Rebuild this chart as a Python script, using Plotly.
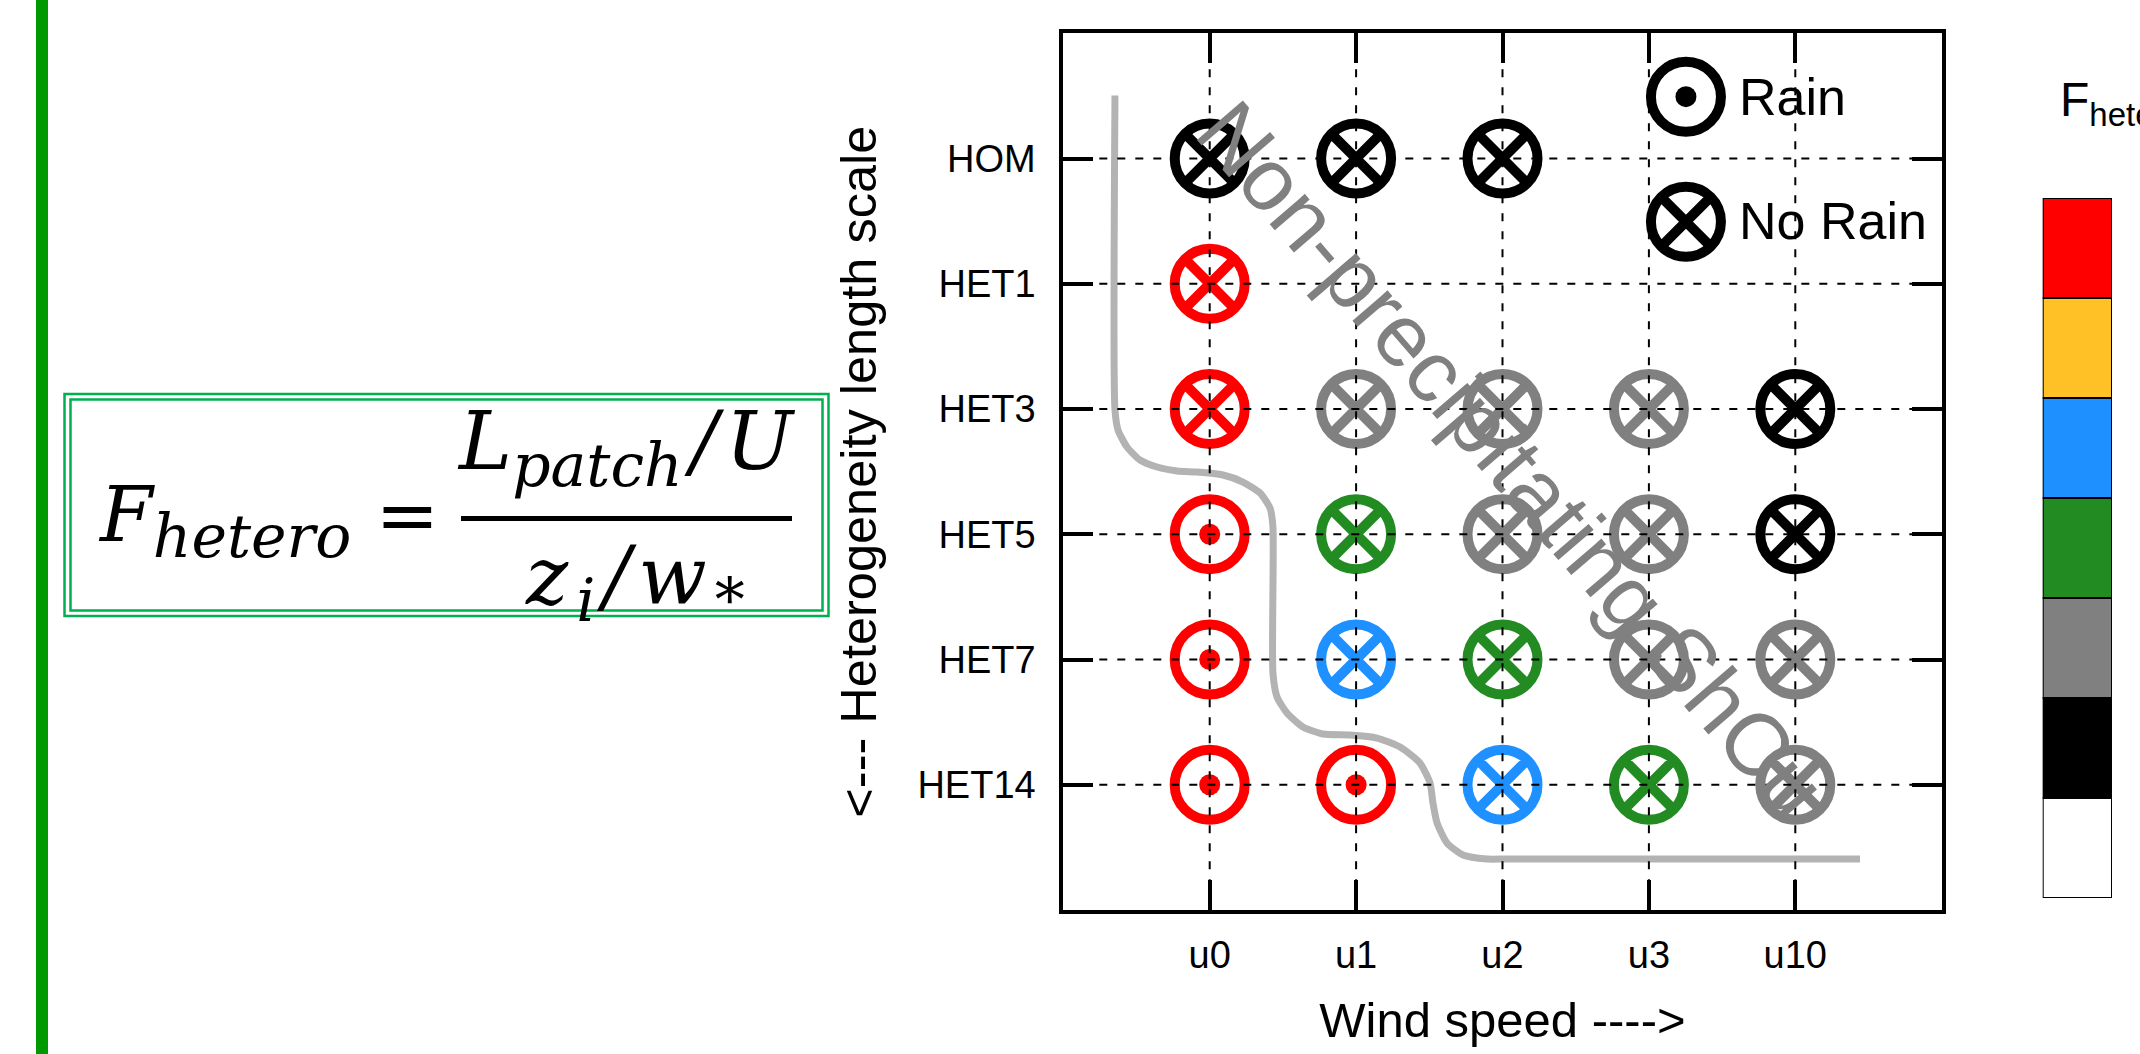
import plotly.graph_objects as go

W, H = 2140, 1054

# ---------------- data ----------------
wind_labels = ["u0", "u1", "u2", "u3", "u10"]
het_labels = ["HOM", "HET1", "HET3", "HET5", "HET7", "HET14"]

run_wind = ["u0", "u1", "u2",
            "u0",
            "u0", "u1", "u2", "u3", "u10",
            "u0", "u1", "u2", "u3", "u10",
            "u0", "u1", "u2", "u3", "u10",
            "u0", "u1", "u2", "u3", "u10"]
run_het = (["HOM"] * 3 + ["HET1"] + ["HET3"] * 5 + ["HET5"] * 5
           + ["HET7"] * 5 + ["HET14"] * 5)
# F_hetero class (index into colour bar, top -> bottom)
run_class = [5, 5, 5,
             0,
             0, 4, 4, 4, 5,
             0, 3, 4, 4, 5,
             0, 2, 3, 4, 4,
             0, 0, 2, 3, 4]
run_rain = [False, False, False,
            False,
            False, False, False, False, False,
            True, False, False, False, False,
            True, False, False, False, False,
            True, True, False, False, False]

fhet_colors = ["#FF0000", "#FFC125", "#1E90FF", "#228B22",
               "#808080", "#000000", "#FFFFFF"]   # colour bar, top -> bottom

# boundary of the non-precipitating regime (data units)
boundary_x = [-0.647, -0.647, -0.626, -0.565, -0.476, -0.360, -0.223, -0.087,
              0.091, 0.227, 0.344, 0.412, 0.432, 0.432, 0.460, 0.528, 0.637,
              0.774, 0.958, 1.143, 1.300, 1.436, 1.505, 1.525, 1.553, 1.621,
              1.730, 1.894, 2.031, 4.442]
boundary_y = [-0.503, 2.008, 2.168, 2.303, 2.407, 2.463, 2.495, 2.503,
              2.527, 2.583, 2.671, 2.790, 2.942, 4.108, 4.299, 4.427, 4.539,
              4.595, 4.603, 4.627, 4.699, 4.826, 4.986, 5.146, 5.305, 5.465,
              5.561, 5.593, 5.593, 5.593]


def px(x):
    return x / W


def py(y):
    return 1 - y / H


SANS = "Liberation Sans, Arial, Helvetica, sans-serif"
SERIF = "DejaVu Serif, serif"
HS = "&#8202;"  # hair space

xi = [wind_labels.index(w) for w in run_wind]
yi = [het_labels.index(h) for h in run_het]
cols = [fhet_colors[c] for c in run_class]

nr = [k for k, r in enumerate(run_rain) if not r]
rr = [k for k, r in enumerate(run_rain) if r]

fig = go.Figure()

fig.add_trace(go.Scatter(
    x=boundary_x, y=boundary_y, mode="lines",
    line=dict(color="#b3b3b3", width=7, shape="spline", smoothing=0.6),
    hoverinfo="skip"))

fig.add_trace(go.Scatter(
    x=[xi[k] for k in nr], y=[yi[k] for k in nr], mode="markers",
    marker=dict(symbol="circle-x-open", size=70,
                color=[cols[k] for k in nr], line=dict(width=10)),
    cliponaxis=False))

fig.add_trace(go.Scatter(
    x=[xi[k] for k in rr], y=[yi[k] for k in rr], mode="markers",
    marker=dict(symbol="circle-open", size=70,
                color=[cols[k] for k in rr], line=dict(width=10)),
    cliponaxis=False))
fig.add_trace(go.Scatter(
    x=[xi[k] for k in rr], y=[yi[k] for k in rr], mode="markers",
    marker=dict(symbol="circle", size=21, color=[cols[k] for k in rr],
                line=dict(width=0)),
    cliponaxis=False))

# in-plot legend
LEG_X = 3.253
fig.add_trace(go.Scatter(
    x=[LEG_X], y=[-0.494], mode="markers",
    marker=dict(symbol="circle-open", size=70, color="black", line=dict(width=10)),
    cliponaxis=False))
fig.add_trace(go.Scatter(
    x=[LEG_X], y=[-0.494], mode="markers",
    marker=dict(symbol="circle", size=21, color="black", line=dict(width=0)),
    cliponaxis=False))
fig.add_trace(go.Scatter(
    x=[LEG_X], y=[0.504], mode="markers",
    marker=dict(symbol="circle-x-open", size=70, color="black", line=dict(width=10)),
    cliponaxis=False))

# colour bar as stacked segments
nseg = len(fhet_colors)
fig.add_trace(go.Bar(
    x=[0] * nseg, y=[1] * nseg, base=list(range(nseg)),
    marker=dict(color=list(reversed(fhet_colors)),
                line=dict(color="black", width=2)),
    width=1, xaxis="x2", yaxis="y2", hoverinfo="skip"))

shapes = []
# dashed grid (above markers)
for i in range(len(wind_labels)):
    shapes.append(dict(type="line", xref="x", yref="y", x0=i, x1=i, y0=-1, y1=6,
                       line=dict(color="black", width=2, dash="8px,10px"),
                       layer="above"))
for j in range(len(het_labels)):
    shapes.append(dict(type="line", xref="x", yref="y", x0=-1, x1=5, y0=j, y1=j,
                       line=dict(color="black", width=2, dash="8px,10px"),
                       layer="above"))
# green vertical bar
shapes.append(dict(type="rect", xref="paper", yref="paper",
                   x0=px(36), x1=px(48), y0=0, y1=1,
                   fillcolor="#009A00", line=dict(width=0)))
# formula double frame
shapes.append(dict(type="rect", xref="paper", yref="paper",
                   x0=px(64.5), x1=px(828.5), y0=py(616), y1=py(394),
                   line=dict(color="#00B050", width=2.5)))
shapes.append(dict(type="rect", xref="paper", yref="paper",
                   x0=px(70.5), x1=px(822.5), y0=py(610.5), y1=py(399.5),
                   line=dict(color="#00B050", width=2.5)))
# fraction bar
shapes.append(dict(type="line", xref="paper", yref="paper",
                   x0=px(461), x1=px(792), y0=py(518.5), y1=py(518.5),
                   line=dict(color="black", width=5)))


def sub(txt, size):
    return '<sub><span style="font-size:%dpx">%s</span></sub>' % (size, txt)


lhs = "<i>F</i>" + sub("<i>hetero</i>", 60) + " ="
num = "<i>L</i>" + sub("<i>patch</i>", 60) + HS + "<i>/</i>" + HS + "<i>U</i>"
den = ("<i>z</i>" + HS + sub("<i>i</i>", 60) + HS + "<i>/</i>" + HS
       + "<i>w</i>" + HS + sub("*", 60))

annotations = [
    dict(x=3.602, y=-0.495, xref="x", yref="y", text="Rain", showarrow=False,
         xanchor="left", yanchor="middle", font=dict(family=SANS, size=52, color="black")),
    dict(x=3.602, y=0.497, xref="x", yref="y", text="No Rain", showarrow=False,
         xanchor="left", yanchor="middle", font=dict(family=SANS, size=52, color="black")),
    dict(x=2.065, y=2.404, xref="x", yref="y", text="Non-precipitating ShCu",
         showarrow=False, textangle=49.3, xanchor="center", yanchor="middle",
         font=dict(family=SANS, size=88, color="#808080")),
    dict(x=px(2058), y=py(103), xref="paper", yref="paper",
         text="F" + sub("hetero", 33), showarrow=False, xanchor="left",
         yanchor="middle", font=dict(family=SANS, size=48, color="black")),
    dict(x=px(96), y=py(520), xref="paper", yref="paper",
         text=lhs, showarrow=False,
         xanchor="left", yanchor="middle", font=dict(family=SERIF, size=76, color="black")),
    dict(x=px(626), y=py(447), xref="paper", yref="paper",
         text=num, showarrow=False,
         xanchor="center", yanchor="middle", font=dict(family=SERIF, size=80, color="black")),
    dict(x=px(635), y=py(582), xref="paper", yref="paper",
         text=den, showarrow=False,
         xanchor="center", yanchor="middle", font=dict(family=SERIF, size=80, color="black")),
]

axis_common = dict(
    ticks="inside", ticklen=30, tickwidth=3.5, tickcolor="black",
    showline=True, linewidth=4, linecolor="black", mirror="ticks",
    showgrid=False, zeroline=False, automargin=False,
    tickfont=dict(family=SANS, size=38, color="black"),
)

fig.update_layout(
    width=W, height=H,
    margin=dict(l=0, r=0, t=0, b=0),
    paper_bgcolor="white", plot_bgcolor="white",
    showlegend=False,
    xaxis=dict(domain=[px(1063.3), px(1941.7)], range=[-1, 5],
               tickmode="array", tickvals=list(range(len(wind_labels))),
               ticktext=wind_labels, ticklabelstandoff=8,
               title=dict(text="Wind speed ---->", standoff=29,
                          font=dict(family=SANS, size=49, color="black")),
               **axis_common),
    yaxis=dict(domain=[py(910), py(33.3)], range=[6, -1],
               tickmode="array", tickvals=list(range(len(het_labels))),
               ticktext=het_labels, ticklabelstandoff=16,
               title=dict(text="&lt;--- Heterogeneity length scale", standoff=26,
                          font=dict(family=SANS, size=50.5, color="black")),
               **axis_common),
    xaxis2=dict(domain=[px(2042.7), px(2112)], anchor="y2", range=[-0.5, 0.5],
                showticklabels=False, ticks="", showgrid=False, zeroline=False,
                showline=False),
    yaxis2=dict(domain=[py(898), py(198)], anchor="x2", range=[0, nseg],
                showticklabels=False, ticks="", showgrid=False, zeroline=False,
                showline=False),
    shapes=shapes,
    annotations=annotations,
)

fig.write_html("out.html",
               config={"displayModeBar": False},
               post_script="document.body.style.margin='0px';"
                           "document.body.style.overflow='hidden';")
